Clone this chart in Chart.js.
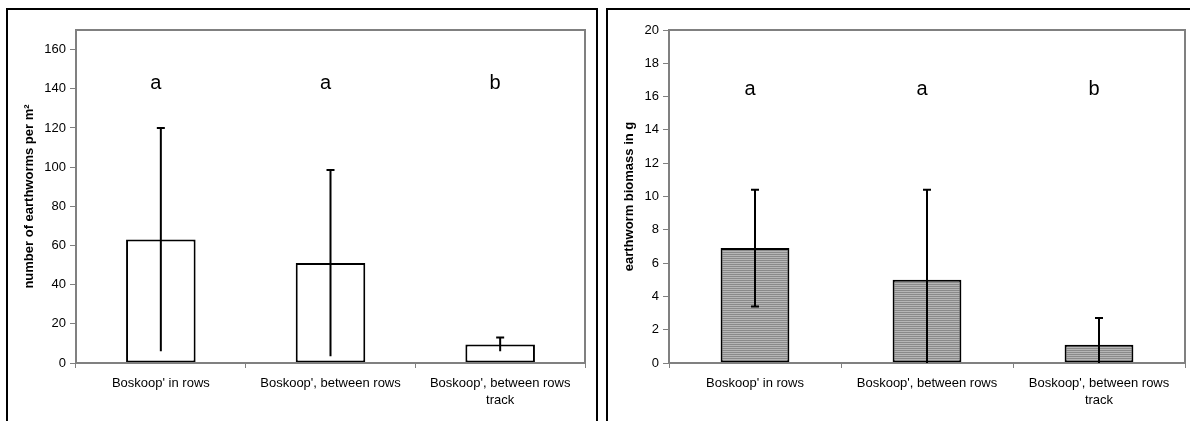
<!DOCTYPE html>
<html>
<head>
<meta charset="utf-8">
<script src="https://cdn.jsdelivr.net/npm/chart.js@4"></script>
<style>
  html, body { margin: 0; padding: 0; background: #fff; }
  body { width: 1190px; height: 421px; position: relative; overflow: hidden; }
  .frame { position: absolute; border: 2px solid #000; border-bottom: none; }
  #frameL { left: 6px; top: 8px; width: 588px; height: 440px; }
  #frameR { left: 606px; top: 8px; width: 640px; height: 440px; border-right: none; }
  .box { position: absolute; top: 0; height: 421px; }
  #boxL { left: 0; width: 598px; }
  #boxR { left: 598px; width: 592px; }
</style>
</head>
<body>
<div class="frame" id="frameL"></div>
<div class="frame" id="frameR"></div>
<div class="box" id="boxL"><canvas id="countChart"></canvas></div>
<div class="box" id="boxR"><canvas id="massChart"></canvas></div>
<script>
// categories shared by both panels
const categories = ["Boskoop' in rows", "Boskoop', between rows", ["Boskoop', between rows", "track"]];

// earthworms per m2
const countMeans = [63, 51, 9.5];
const countErrors = [57, 47.5, 3.5];
const countLetters = ['a', 'a', 'b'];
const countLetterY = [140, 140, 140];
const countTicks = { min: 0, max: 170, step: 20 };

// biomass in g
const massMeans = [6.9, 5.0, 1.1];
const massErrors = [3.5, 5.4, 1.6];
const massLetters = ['a', 'a', 'b'];
const massLetterY = [16.1, 16.1, 16.1];
const massTicks = { min: 0, max: 20, step: 2 };

const FONT = 'Arial, "Liberation Sans", sans-serif';
Chart.defaults.font.family = FONT;
Chart.defaults.color = '#000';

// horizontal stripe fill for the biomass bars
function stripePattern() {
    const c = document.createElement('canvas');
    c.width = 4; c.height = 2;
    const g = c.getContext('2d');
    g.fillStyle = '#8a8a8a'; g.fillRect(0, 0, 4, 1);
    g.fillStyle = '#b6b6b6'; g.fillRect(0, 1, 4, 1);
    return g.createPattern(c, 'repeat');
}

// error bars + significance letters + grey plot frame
const extras = {
    id: 'extras',
    afterDatasetsDraw(chart, args, opts) {
        const ctx = chart.ctx;
        const x = chart.scales.x, y = chart.scales.y;
        const area = chart.chartArea;
        ctx.save();
        ctx.strokeStyle = '#808080';
        ctx.lineWidth = 2;
        ctx.strokeRect(area.left, area.top, area.right - area.left, area.bottom - area.top);

        ctx.strokeStyle = '#000';
        ctx.lineWidth = 2;
        opts.means.forEach((m, i) => {
            const px = chart.getDatasetMeta(0).data[i].x;
            const hi = y.getPixelForValue(m + opts.errors[i]);
            const loVal = m - opts.errors[i];
            const lo = y.getPixelForValue(Math.max(loVal, 0));
            ctx.beginPath();
            ctx.moveTo(px, lo); ctx.lineTo(px, hi);
            ctx.moveTo(px - 4, hi); ctx.lineTo(px + 4, hi);
            if (opts.lowerCap && loVal > 0) {
                ctx.moveTo(px - 4, lo); ctx.lineTo(px + 4, lo);
            }
            ctx.stroke();
        });

        ctx.fillStyle = '#000';
        ctx.font = '20px ' + FONT;
        ctx.textAlign = 'center';
        ctx.textBaseline = 'alphabetic';
        opts.letters.forEach((t, i) => {
            ctx.fillText(t, x.getPixelForValue(i) - 5, y.getPixelForValue(opts.letterY[i]));
        });
        ctx.restore();
    }
};

function makeChart(id, means, fill, ticks, title, yWidth, padRight, titlePad, extraOpts, barPct) {
    return new Chart(document.getElementById(id), {
        type: 'bar',
        data: {
            labels: categories,
            datasets: [{
                data: means,
                backgroundColor: fill,
                borderColor: '#000',
                borderWidth: 2,
                borderSkipped: false,
                categoryPercentage: 1,
                barPercentage: barPct
            }]
        },
        options: {
            responsive: true,
            maintainAspectRatio: false,
            animation: false,
            layout: { padding: { top: 30, right: padRight, bottom: 8, left: 0 } },
            scales: {
                x: {
                    grid: { offset: true, drawOnChartArea: false, color: '#808080', tickLength: 5, lineWidth: 1 },
                    border: { color: '#808080', width: 2 },
                    ticks: { font: { size: 13, lineHeight: 1.3 }, padding: 7, maxRotation: 0, autoSkip: false },
                    afterFit(s) { s.height = 50; }
                },
                y: {
                    min: ticks.min, max: ticks.max,
                    grid: { drawOnChartArea: false, color: '#808080', tickLength: 6 },
                    border: { color: '#808080', width: 2 },
                    ticks: { stepSize: ticks.step, font: { size: 13 }, padding: 4 },
                    afterBuildTicks(s) { s.ticks = s.ticks.filter(t => t.value % ticks.step === 0); },
                    title: { display: true, text: title, font: { size: 13, weight: 'bold' }, padding: titlePad },
                    afterFit(s) { s.width = yWidth; }
                }
            },
            plugins: {
                legend: { display: false },
                tooltip: { enabled: false },
                extras: extraOpts
            }
        },
        plugins: [extras]
    });
}

makeChart('countChart', countMeans, '#fff', countTicks, 'number of earthworms per m²', 76, 13,
    { top: 22, bottom: 0 },
    { means: countMeans, errors: countErrors, letters: countLetters, letterY: countLetterY, lowerCap: false }, 0.41);

makeChart('massChart', massMeans, stripePattern(), massTicks, 'earthworm biomass in g', 71, 5,
    { top: 24, bottom: 0 },
    { means: massMeans, errors: massErrors, letters: massLetters, letterY: massLetterY, lowerCap: true }, 0.4);
</script>
</body>
</html>
